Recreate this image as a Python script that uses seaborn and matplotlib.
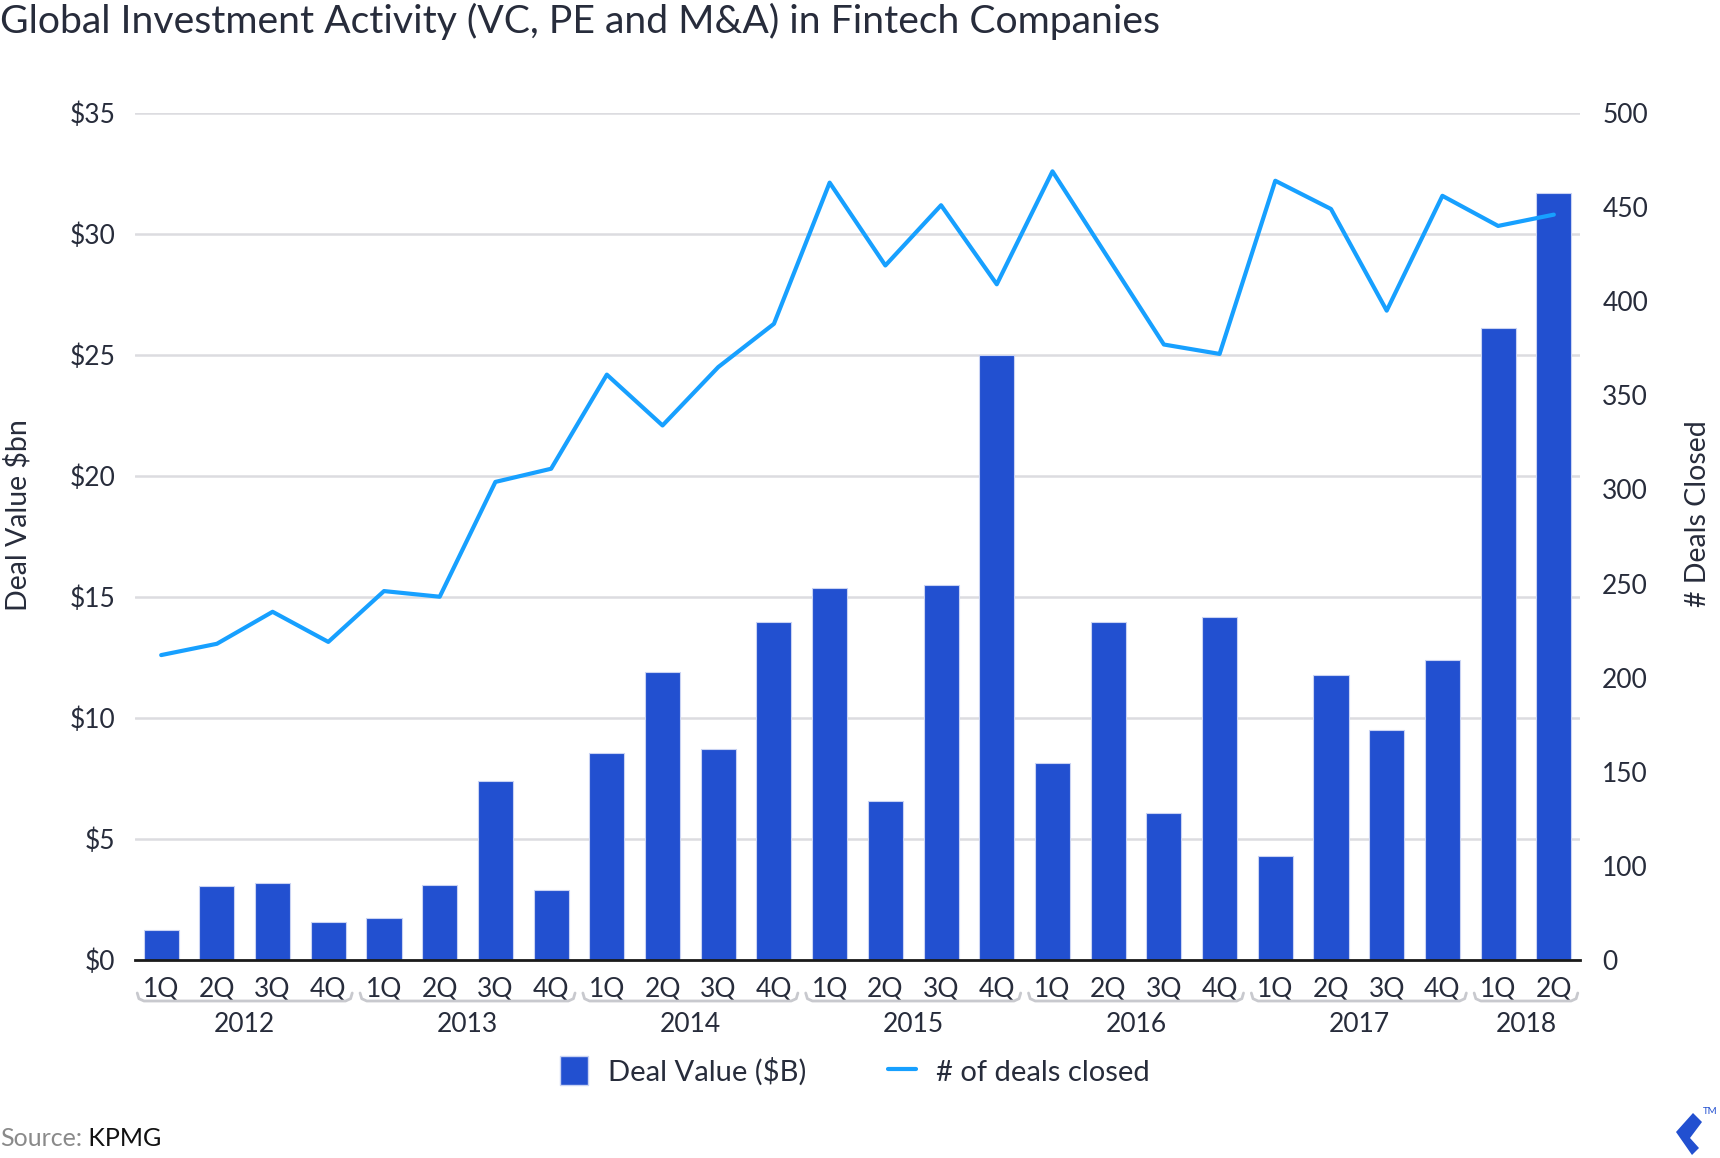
import numpy as np
import pandas as pd
import matplotlib
matplotlib.use("Agg")
import matplotlib.pyplot as plt
import seaborn as sns
from matplotlib.patches import Patch, Polygon
from matplotlib.lines import Line2D
import matplotlib.transforms as mtransforms

# ---------------- data ----------------
years = ["2012", "2013", "2014", "2015", "2016", "2017", "2018"]
quarters_per_year = [4, 4, 4, 4, 4, 4, 2]
quarter_names = ["1Q", "2Q", "3Q", "4Q"]

deal_value = [1.22, 3.04, 3.17, 1.59,
              1.72, 3.08, 7.39, 2.90,
              8.57, 11.92, 8.70, 13.96,
              15.37, 6.57, 15.50, 25.02,
              8.16, 13.96, 6.07, 14.19,
              4.31, 11.79, 9.52, 12.38,
              26.11, 31.69]

deals_closed = [212, 218, 235, 219,
                246, 243, 304, 311,
                361, 334, 365, 388,
                463, 419, 451, 409,
                469, 423, 377, 372,
                464, 449, 395, 456,
                440, 446]

left_ticks = [0, 5, 10, 15, 20, 25, 30, 35]
left_tick_labels = ["$0", "$5", "$10", "$15", "$20", "$25", "$30", "$35"]
right_ticks = [50, 100, 150, 200, 250, 300, 350, 400, 450, 500]
right_tick_labels = ["0", "100", "150", "200", "250", "300", "350", "400", "450", "500"]

period = []
qlabel = []
year_of = []
for y, nq in zip(years, quarters_per_year):
    for q in quarter_names[:nq]:
        period.append(f"{y} {q}")
        qlabel.append(q)
        year_of.append(y)

df = pd.DataFrame({"period": period, "quarter": qlabel, "year": year_of,
                   "value": deal_value, "deals": deals_closed})
df["pos"] = np.arange(len(df))

# ---------------- style ----------------
sns.set_theme(style="white")
FONT = ["Lato", "DejaVu Sans"]
plt.rcParams["font.family"] = FONT
TXT = "#272c3b"
BAR = "#2250d0"
LINE = "#17a0ff"
GRID = "#dcdce0"

W, H = 1720, 1158
fig = plt.figure(figsize=(W / 100, H / 100), dpi=100)
ax = fig.add_axes([135 / W, 1 - 960 / H, (1580 - 135) / W, (960 - 113) / H])

sns.barplot(data=df, x="period", y="value", order=period, color=BAR,
            saturation=1, width=0.63, ax=ax, edgecolor="#c9d3f3", linewidth=0.8,
            zorder=2)

ax.set_xlim(-0.47, len(df) - 1 + 0.47)
ax.set_ylim(0, 35)
ax.set_yticks(left_ticks)
ax.set_yticklabels(left_tick_labels)
ax.grid(axis="y", color=GRID, linewidth=1.8, zorder=0)
ax.set_axisbelow(True)
for s in ["top", "right", "left"]:
    ax.spines[s].set_visible(False)
ax.spines["bottom"].set_color("#1a1a1a")
ax.spines["bottom"].set_linewidth(2)
ax.spines["bottom"].set_zorder(5)
ax.tick_params(axis="y", length=0, pad=14, labelsize=19, labelcolor=TXT)
ax.tick_params(axis="x", length=0, pad=12, labelsize=19, labelcolor=TXT)
ax.set_xticks(df["pos"])
ax.set_xticklabels(df["quarter"])
ax.set_xlabel("")
ax.set_ylabel("")

ax2 = ax.twinx()
sns.lineplot(x=df["pos"].to_numpy(), y=df["deals"].to_numpy(), ax=ax2,
             color=LINE, linewidth=3, zorder=3)
ax2.set_ylim(50, 500)
ax2.set_yticks(right_ticks)
ax2.set_yticklabels(right_tick_labels)
ax2.tick_params(axis="y", length=0, pad=16, labelsize=19, labelcolor=TXT)
for s in ["top", "right", "left", "bottom"]:
    ax2.spines[s].set_visible(False)
ax2.set_xlim(ax.get_xlim())

# year brackets and labels
trans = mtransforms.blended_transform_factory(ax.transData, fig.transFigure)
yb = 1 - 1001 / H
yup = 1 - 993 / H
for y in years:
    sub = df[df["year"] == y]
    x0 = sub["pos"].min() - 0.43
    x1 = sub["pos"].max() + 0.43
    xs = [x0, x0 + 0.03, x0 + 0.12, x1 - 0.12, x1 - 0.03, x1]
    ys = [yup, yb + 0.002, yb, yb, yb + 0.002, yup]
    fig.lines.append(Line2D(xs, ys, transform=trans, color="#c8c9ce",
                            linewidth=2, solid_capstyle="round",
                            solid_joinstyle="round"))
    fig.text((sub["pos"].min() + sub["pos"].max()) / 2, 1 - 1024 / H, y,
             transform=trans, ha="center", va="center", fontsize=19, color=TXT)

# axis titles
fig.text(18 / W, 1 - 515 / H, "Deal Value $bn", rotation=90, ha="center",
         va="center", fontsize=20.5, color=TXT)
fig.text(1698 / W, 1 - 514 / H, "# Deals Closed", rotation=90, ha="center",
         va="center", fontsize=20.5, color=TXT)

# title
fig.text(0 / W, 1 - 21 / H, "Global Investment Activity (VC, PE and M&A) in Fintech Companies",
         ha="left", va="center", fontsize=28.2, color=TXT)

# legend
handles = [Patch(facecolor=BAR, edgecolor="#c9d3f3", label="Deal Value ($B)"),
           Line2D([0], [0], color=LINE, linewidth=3, label="# of deals closed")]
fig.legend(handles=handles, loc="center", bbox_to_anchor=(0.497, 1 - 1071 / H),
           ncol=2, frameon=False, fontsize=21, labelcolor=TXT,
           handlelength=0.95, handleheight=1.15, columnspacing=2.8, handletextpad=0.7)

# source
t1 = fig.text(0 / W, 1 - 1139 / H, "Source:", ha="left", va="center",
              fontsize=18, color="#8a8a8a")
fig.canvas.draw()
ax.annotate(" KPMG", xy=(1, 0.5), xycoords=t1, ha="left", va="center",
            fontsize=18, color="#111111", annotation_clip=False)

# logo (simple mark)
logo = Polygon([[1676 / W, 1 - 1132 / H], [1693 / W, 1 - 1113 / H],
                [1702 / W, 1 - 1122 / H], [1690 / W, 1 - 1138 / H],
                [1699 / W, 1 - 1148 / H], [1692 / W, 1 - 1155 / H]],
               closed=True, transform=fig.transFigure, facecolor=BAR,
               edgecolor="none")
fig.patches.append(logo)
fig.text(1703 / W, 1 - 1112 / H, "TM", fontsize=7, color=BAR, ha="left", va="center")

fig.savefig("out.png", dpi=100)
